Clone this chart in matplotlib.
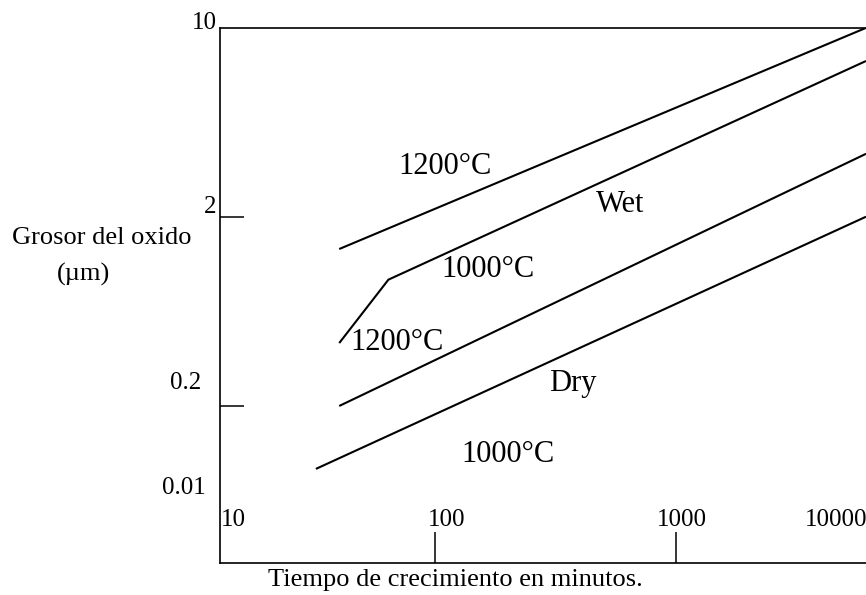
"""Oxide thickness vs growth time (wet / dry oxidation), schematic log-log sketch."""

import matplotlib
matplotlib.use("Agg")
import matplotlib.pyplot as plt
from matplotlib.ticker import NullFormatter, NullLocator

W_PX, H_PX = 866, 595
FONT = "Liberation Serif"

# curves (time in minutes, thickness in um)
wet_1200_t = [40, 6140]
wet_1200_v = [1.35, 19.9]
wet_1000_t = [40, 64, 6140]
wet_1000_v = [0.43, 0.93, 13.3]
dry_1200_t = [40, 6140]
dry_1200_v = [0.2, 4.3]
dry_1000_t = [32, 6140]
dry_1000_v = [0.093, 2.0]

x_ticks = [100, 1000]
y_ticks = [2, 0.2]
x_tick_labels = ["10", "100", "1000", "10000"]
y_tick_labels = ["10", "2", "0.2", "0.01"]

curve_labels = ["1200°C", "Wet", "1000°C", "1200°C", "Dry", "1000°C"]


def px(x, y):
    """pixel position in the 866x595 picture -> figure fraction"""
    return x / W_PX, 1 - y / H_PX


def main():
    plt.rcParams["font.family"] = [FONT, "DejaVu Serif"]
    fig = plt.figure(figsize=(W_PX / 100, H_PX / 100), dpi=100)
    ax = fig.add_axes([220 / W_PX, (H_PX - 563) / H_PX,
                       (W_PX - 220) / W_PX, (563 - 28) / H_PX])

    ax.set_xscale("log")
    ax.set_yscale("log")
    ax.set_xlim(12.8, 6140)
    ax.set_ylim(0.0296, 19.87)

    for t, v in [(wet_1200_t, wet_1200_v), (wet_1000_t, wet_1000_v),
                 (dry_1200_t, dry_1200_v), (dry_1000_t, dry_1000_v)]:
        ax.plot(t, v, color="black", lw=1.5, solid_capstyle="butt")

    ax.xaxis.set_minor_locator(NullLocator())
    ax.yaxis.set_minor_locator(NullLocator())
    ax.set_xticks(x_ticks)
    ax.set_yticks(y_ticks)
    ax.xaxis.set_major_formatter(NullFormatter())
    ax.yaxis.set_major_formatter(NullFormatter())
    ax.tick_params(axis="x", direction="in", length=22, width=1.1, color="black")
    ax.tick_params(axis="y", direction="in", length=17, width=1.1, color="black")

    ax.spines["right"].set_visible(False)
    for s in ["left", "top", "bottom"]:
        ax.spines[s].set_linewidth(1.2)

    # tick labels sit loosely next to the ticks in the original sketch
    ytl_pos = [(217, 23, "right"), (216, 207, "right"), (186, 383, "center"), (184, 488, "center")]
    for lab, (x, y, ha) in zip(y_tick_labels, ytl_pos):
        fig.text(*px(x, y), lab, ha=ha, va="center", fontsize=18)

    xtl_pos = [(233, 520, "center"), (447, 520, "center"), (682, 520, "center"), (805, 520, "left")]
    for lab, (x, y, ha) in zip(x_tick_labels, xtl_pos):
        fig.text(*px(x, y), lab, ha=ha, va="center", fontsize=18)

    fig.text(*px(102, 238), "Grosor del oxido", ha="center", va="center", fontsize=19)
    fig.text(*px(83, 274), "(µm)", ha="center", va="center", fontsize=19)
    fig.text(*px(455, 580), "Tiempo de crecimiento en minutos.",
             ha="center", va="center", fontsize=19)

    lab_pos = [(445, 167), (620, 205), (488, 270), (397, 343), (573, 383), (508, 455)]
    for lab, (x, y) in zip(curve_labels, lab_pos):
        fig.text(*px(x, y), lab, ha="center", va="center", fontsize=22)

    fig.savefig("out.png", dpi=100)
    plt.close(fig)


if __name__ == "__main__":
    main()
